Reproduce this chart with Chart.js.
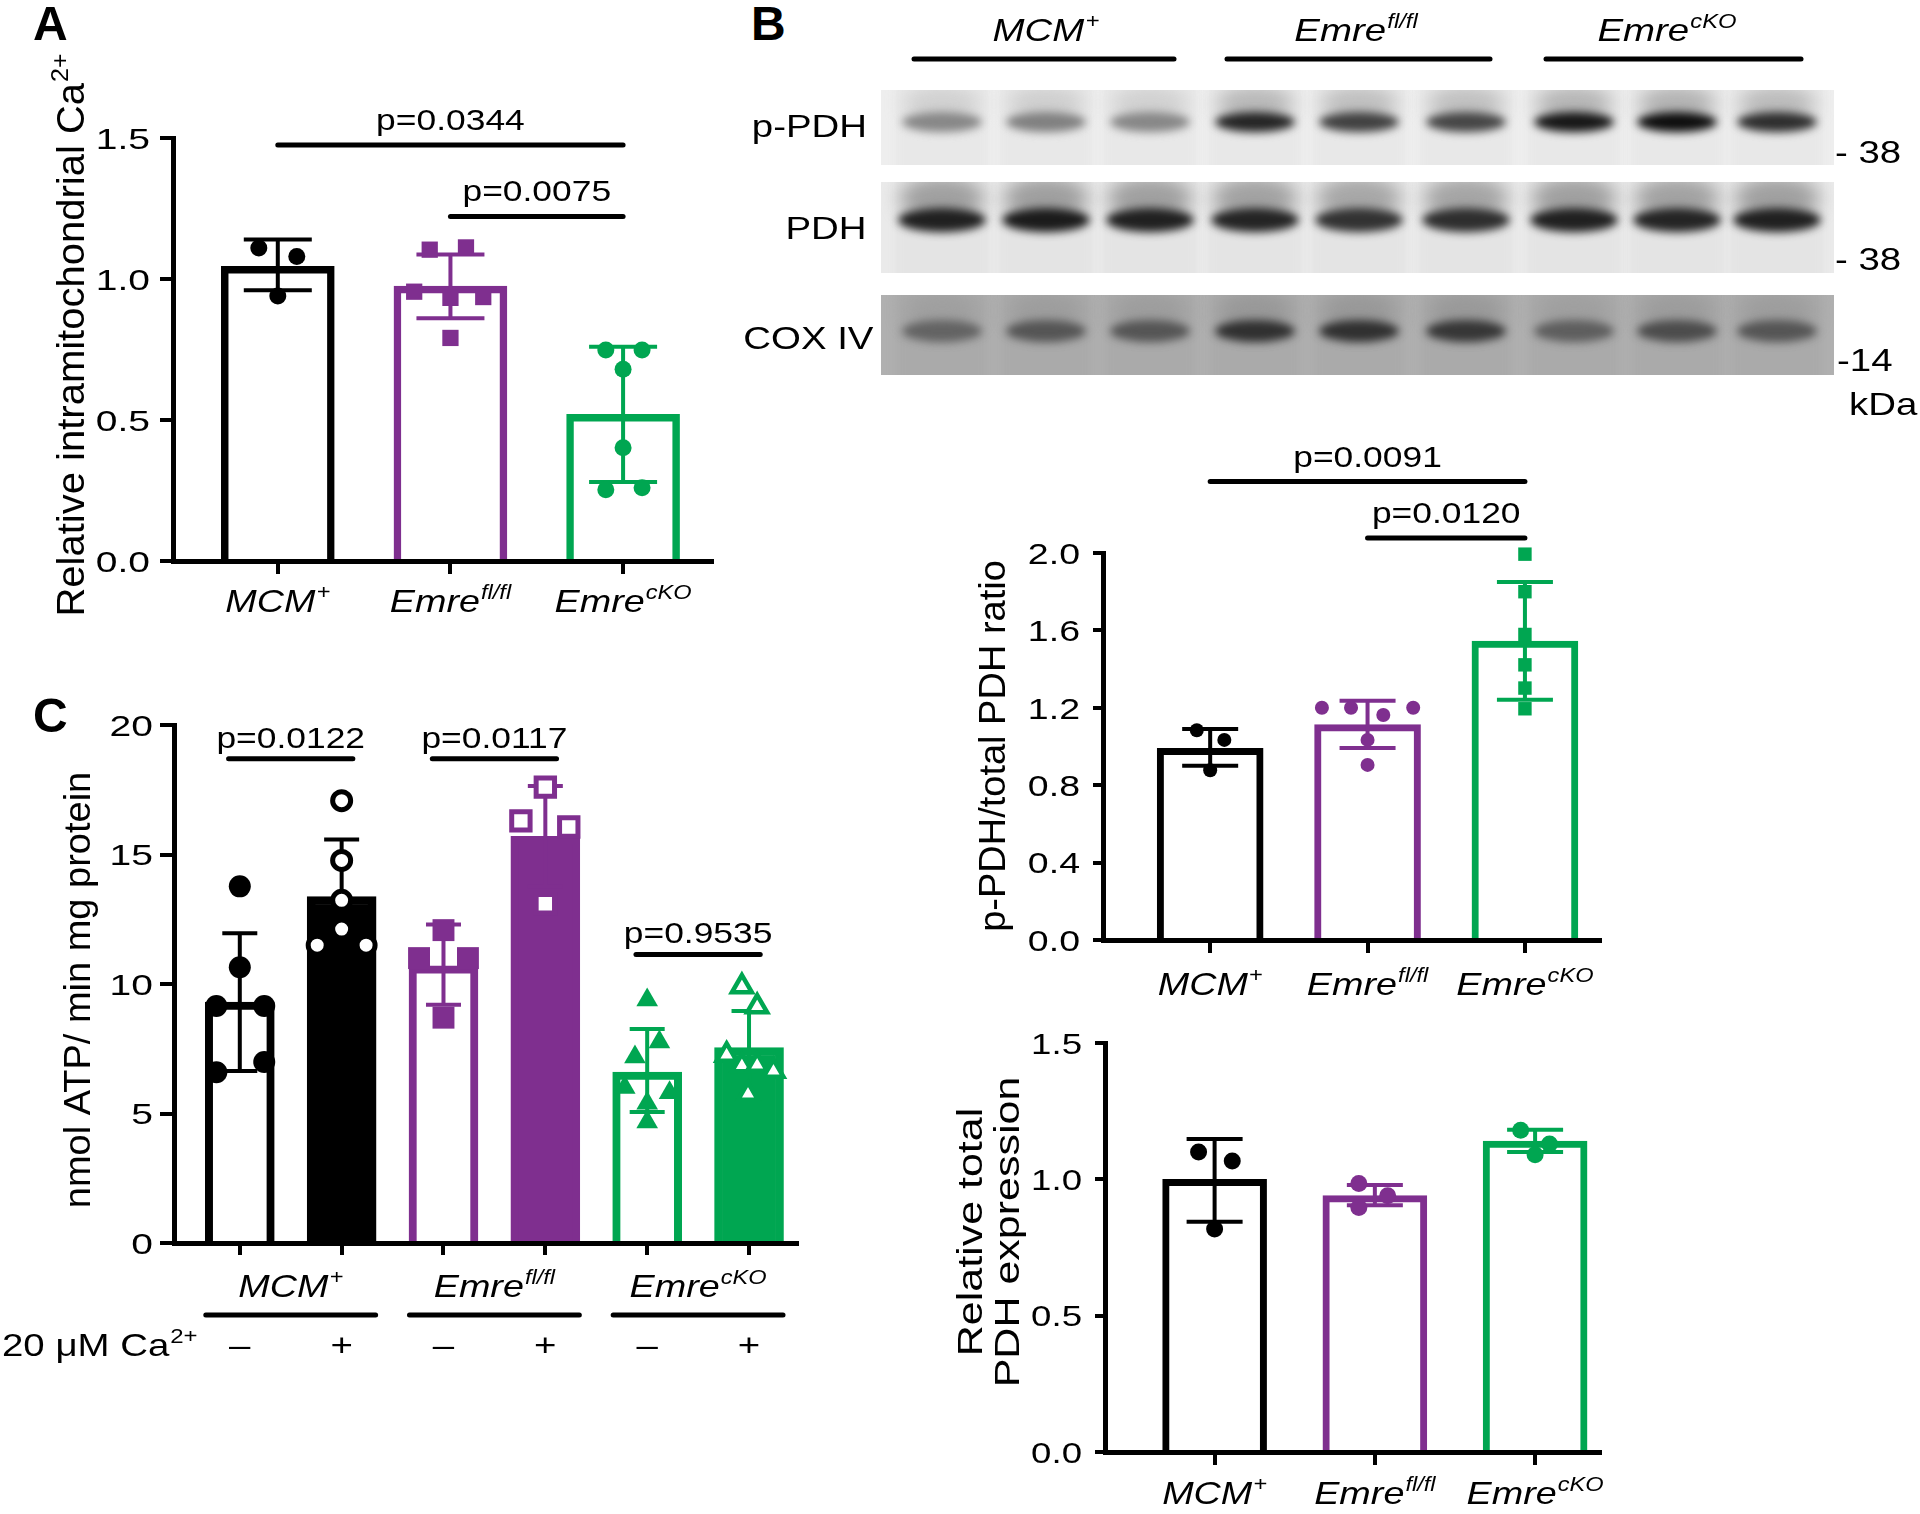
<!DOCTYPE html>
<html>
<head>
<meta charset="utf-8">
<title>Emre cKO figure</title>
<script src="https://cdn.jsdelivr.net/npm/chart.js@4.4.1/dist/chart.umd.min.js"></script>
<style>
  html, body { margin:0; padding:0; background:#fff; }
  #fig { position:relative; width:1920px; height:1514px; background:#fff; overflow:hidden;
         font-family:'Liberation Sans', Arial, Helvetica, sans-serif; color:#000; }
  canvas { position:absolute; display:block; }
  .t { position:absolute; white-space:nowrap; line-height:1; }
  .lt { font-weight:bold; font-size:48px; }
  .gl { font-style:italic; font-size:32px; transform:translateX(-50%) scaleX(1.2); transform-origin:50% 50%; }
  .rl { font-size:32px; text-align:right; transform:scaleX(1.2); transform-origin:100% 50%; }
  .mk { font-size:32px; transform:scaleX(1.2); transform-origin:0 50%; }
  .sp { font-size:0.62em; position:relative; top:-0.66em; margin-left:1px; }
</style>
</head>
<body>
<div id="fig">
  <canvas id="blot" width="1000" height="400" style="left:860px;top:0px;width:1000px;height:400px"></canvas>
  <canvas id="cA" width="730" height="640" style="left:0px;top:0px;width:730px;height:640px"></canvas>
  <canvas id="cC" width="830" height="720" style="left:0px;top:660px;width:830px;height:720px"></canvas>
  <canvas id="cB1" width="720" height="600" style="left:900px;top:420px;width:720px;height:600px"></canvas>
  <canvas id="cB2" width="720" height="504" style="left:900px;top:1010px;width:720px;height:504px"></canvas>

  <div class="t lt" style="left:33px;top:0px">A</div>
  <div class="t lt" style="left:751px;top:0px">B</div>
  <div class="t lt" style="left:33px;top:692px">C</div>

  <div class="t gl" style="left:1046px;top:14px">MCM<span class="sp">+</span></div>
  <div class="t gl" style="left:1356px;top:14px">Emre<span class="sp">fl/fl</span></div>
  <div class="t gl" style="left:1667px;top:14px">Emre<span class="sp">cKO</span></div>

  <div class="t rl" style="right:1053px;top:110px">p-PDH</div>
  <div class="t rl" style="right:1053px;top:212px">PDH</div>
  <div class="t rl" style="right:1047px;top:322px">COX IV</div>

  <div class="t mk" style="left:1835px;top:136px">- 38</div>
  <div class="t mk" style="left:1835px;top:243px">- 38</div>
  <div class="t mk" style="left:1837px;top:344px">-14</div>
  <div class="t mk" style="left:1849px;top:388px">kDa</div>
</div>

<script>
// ================= DATA =================
const FF = "'Liberation Sans', Arial, Helvetica, sans-serif";
const BLACK = '#000000', PURPLE = '#7f2f8f', GREEN = '#00a651', WHITE = '#ffffff';

// shared genotype labels
const genoMain = ['MCM', 'Emre', 'Emre'];
const genoSup  = ['+', 'fl/fl', 'cKO'];

// ---- Panel A : Relative intramitochondrial Ca2+
const aMeans   = [1.045, 0.975, 0.52];
const aErrLow  = [0.96, 0.861, 0.28];
const aErrHigh = [1.14, 1.087, 0.76];
const aPtsMCM  = [1.11, 1.08, 0.94];
const aJitMCM  = [-0.11, 0.11, 0];
const aPtsFl   = [1.104, 1.112, 0.955, 0.933, 0.936, 0.791];
const aJitFl   = [-0.12, 0.09, -0.21, 0, 0.19, 0];
const aPtsKO   = [0.748, 0.748, 0.68, 0.402, 0.253, 0.26];
const aJitKO   = [-0.1, 0.11, 0, 0, -0.1, 0.11];
const aYTicks  = [0, 0.5, 1.0, 1.5];
const aSigFrom = [0, 1];
const aSigTo   = [2, 2];
const aSigY    = [1.475, 1.222];
const aSigText = ['p=0.0344', 'p=0.0075'];

// ---- Panel C : nmol ATP / min mg protein
const cCa       = ['\u2013', '+', '\u2013', '+', '\u2013', '+'];
const cMeans    = [9.3, 13.38, 10.7, 15.7, 6.6, 7.55];
const cErrLow   = [6.64, 11.18, 9.2, 13.76, 5.06, 6.14];
const cErrHigh  = [11.96, 15.58, 12.3, 17.64, 8.26, 8.96];
const cPts1 = [13.77, 10.65, 9.15, 9.15, 6.59, 6.99];    const cJit1 = [0, 0, -0.23, 0.24, -0.23, 0.24];
const cPts2 = [17.08, 14.77, 13.23, 12.12, 11.5, 11.5];  const cJit2 = [0, 0, 0, 0, -0.24, 0.24];
const cPts3 = [12.08, 11.0, 11.0, 8.7];                  const cJit3 = [0, -0.24, 0.24, 0];
const cPts4 = [17.6, 16.3, 16.06, 13.1];                 const cJit4 = [0, -0.24, 0.23, 0];
const cPts5 = [9.38, 7.76, 7.18, 6.0, 5.8, 5.4, 4.67];   const cJit5 = [0, 0.12, -0.12, -0.22, 0.22, 0, 0];
const cPts6 = [9.9, 9.13, 7.26, 6.85, 6.87, 6.64, 5.75]; const cJit6 = [-0.07, 0.08, -0.22, -0.07, 0.08, 0.24, -0.01];
const cYTicks  = [0, 5, 10, 15, 20];
const cSigFrom = [-0.11, 1.89, 3.89];
const cSigTo   = [1.11, 3.11, 5.11];
const cSigY    = [18.7, 18.7, 11.14];
const cSigText = ['p=0.0122', 'p=0.0117', 'p=0.9535'];

// ---- Panel B (ratio) : p-PDH / total PDH ratio
const rMeans   = [0.99, 1.113, 1.545];
const rErrLow  = [0.90, 0.992, 1.241];
const rErrHigh = [1.09, 1.237, 1.85];
const rPtsMCM  = [1.084, 1.034, 0.877];                    const rJitMCM = [-0.085, 0.09, 0];
const rPtsFl   = [1.2, 1.2, 1.163, 1.2, 1.034, 0.905];      const rJitFl  = [-0.29, -0.105, 0.1, 0.29, 0, 0];
const rPtsKO   = [1.994, 1.8, 1.579, 1.422, 1.302, 1.195];  const rJitKO  = [0, 0, 0, 0, 0, 0];
const rYTicks  = [0, 0.4, 0.8, 1.2, 1.6, 2.0];
const rSigFrom = [0, 1];
const rSigTo   = [2, 2];
const rSigY    = [2.369, 2.078];
const rSigText = ['p=0.0091', 'p=0.0120'];

// ---- Panel B (total) : Relative total PDH expression
const tMeans   = [1.0, 0.94, 1.14];
const tErrLow  = [0.844, 0.905, 1.1];
const tErrHigh = [1.148, 0.979, 1.182];
const tPtsMCM  = [1.1, 1.067, 0.818];  const tJitMCM = [-0.1, 0.11, 0];
const tPtsFl   = [0.985, 0.897, 0.94]; const tJitFl  = [-0.1, -0.1, 0.08];
const tPtsKO   = [1.18, 1.09, 1.13];   const tJitKO  = [-0.09, 0, 0.09];
const tYTicks  = [0, 0.5, 1.0, 1.5];

// ---- Western blot appearance (band darkness per lane, 0 = none, 1 = black)
const laneX    = [942, 1046, 1150, 1255, 1359, 1466, 1574, 1677, 1777];
const bandPPDH = [0.42, 0.45, 0.42, 0.84, 0.72, 0.7, 0.9, 0.94, 0.8];
const bandPDH  = [0.86, 0.88, 0.86, 0.84, 0.78, 0.8, 0.86, 0.84, 0.86];
const bandCOX  = [0.42, 0.5, 0.5, 0.72, 0.72, 0.68, 0.45, 0.55, 0.5];

// ================= HELPERS =================
function drawScaled(ctx, str, x, y, font, sx, sy) {
  ctx.save();
  ctx.translate(x, y);
  ctx.scale(sx || 1, sy || 1);
  ctx.font = font;
  ctx.textAlign = 'left';
  ctx.textBaseline = 'alphabetic';
  ctx.fillText(str, 0, 0);
  ctx.restore();
}
function sText(ctx, str, x, y, size, align, sx, italic) {
  const font = (italic ? 'italic ' : '') + size + 'px ' + FF;
  ctx.font = font;
  const w = ctx.measureText(str).width * sx;
  const x0 = align === 'center' ? x - w / 2 : (align === 'right' ? x - w : x);
  drawScaled(ctx, str, x0, y, font, sx, 1);
}
function supText(ctx, x, y, main, sup, size, italic, align, sx, sy) {
  sx = sx || 1; sy = sy || 1;
  const st = italic ? 'italic ' : '';
  const ss = Math.round(size * 0.62);
  const f1 = st + size + 'px ' + FF, f2 = st + ss + 'px ' + FF;
  ctx.font = f1;
  const w1 = ctx.measureText(main).width * sx;
  ctx.font = f2;
  const w2 = sup ? ctx.measureText(sup).width * sx + 1 : 0;
  const tot = w1 + w2;
  const x0 = align === 'center' ? x - tot / 2 : (align === 'right' ? x - tot : x);
  drawScaled(ctx, main, x0, y, f1, sx, sy);
  if (sup) drawScaled(ctx, sup, x0 + w1 + 1, y - size * 0.4 * sy, f2, sx, sy);
}
function vTitle(ctx, cx, cy, main, sup, size, sy) {
  ctx.save();
  ctx.translate(cx, cy);
  ctx.rotate(-Math.PI / 2);
  supText(ctx, 0, size * 0.36 * sy, main, sup, size, false, 'center', 1, sy);
  ctx.restore();
}

function buildChart(sp) {
  const datasets = [{
    type: 'bar', order: 1,
    data: sp.means.map((m, i) => ({ x: i, y: m })),
    backgroundColor: sp.barFill, borderColor: sp.barEdge,
    borderWidth: sp.barBorder, barThickness: sp.barW, borderSkipped: 'start'
  }];
  sp.points.forEach(p => datasets.push({
    type: 'scatter', order: 0,
    data: p.vals.map((v, j) => ({ x: p.cat + p.jit[j], y: v })),
    pointStyle: p.style, pointRadius: p.r, pointHoverRadius: p.r,
    pointBackgroundColor: p.fill, pointBorderColor: p.edge, pointBorderWidth: p.bw,
    showLine: false, clip: false
  }));
  const plugin = {
    id: 'deco_' + sp.id,
    afterDatasetDraw(chart, args) {
      if (args.index !== 0) return;
      const ctx = chart.ctx, xs = chart.scales.x, ys = chart.scales.y;
      ctx.save();
      ctx.lineWidth = sp.errW;
      ctx.lineCap = 'butt';
      sp.errLow.forEach((lo, i) => {
        const px = xs.getPixelForValue(i);
        const pl = ys.getPixelForValue(lo), ph = ys.getPixelForValue(sp.errHigh[i]);
        ctx.strokeStyle = sp.barEdge[i];
        ctx.beginPath();
        ctx.moveTo(px, pl); ctx.lineTo(px, ph);
        ctx.moveTo(px - sp.cap, pl); ctx.lineTo(px + sp.cap, pl);
        ctx.moveTo(px - sp.cap, ph); ctx.lineTo(px + sp.cap, ph);
        ctx.stroke();
      });
      ctx.restore();
    },
    afterDraw(chart) {
      const ctx = chart.ctx, xs = chart.scales.x, ys = chart.scales.y, ca = chart.chartArea;
      ctx.save();
      ctx.fillStyle = '#000'; ctx.strokeStyle = '#000';
      // y tick labels
      sp.yTicks.forEach(v => sText(ctx, v.toFixed(sp.yDec), ca.left - sp.yLabGap,
        ys.getPixelForValue(v) + sp.tickS * 0.358, sp.tickS, 'right', sp.tickSx, false));
      // significance bars
      if (sp.sig) {
        sp.sig.from.forEach((f, i) => {
          const x1 = xs.getPixelForValue(f), x2 = xs.getPixelForValue(sp.sig.to[i]);
          const py = ys.getPixelForValue(sp.sig.y[i]);
          ctx.lineWidth = sp.sigW; ctx.lineCap = 'round';
          ctx.beginPath(); ctx.moveTo(x1, py); ctx.lineTo(x2, py); ctx.stroke();
          sText(ctx, sp.sig.text[i], (x1 + x2) / 2, py - sp.sigGap, 30, 'center', 1.18, false);
        });
      }
      // category labels
      if (sp.cats) {
        sp.cats.main.forEach((m, i) =>
          supText(ctx, xs.getPixelForValue(i), ca.bottom + sp.catDy, m, sp.cats.sup[i], 32, true, 'center', 1.18, 1));
      }
      sp.titles.forEach(t => vTitle(ctx, t.x, t.y, t.main, t.sup, sp.titleFont, sp.titleSy));
      if (sp.extra) sp.extra(chart, ctx, xs, ys, ca);
      ctx.restore();
    }
  };
  return new Chart(document.getElementById(sp.id), {
    type: 'scatter',
    data: { datasets },
    options: {
      responsive: false, maintainAspectRatio: false, animation: false, devicePixelRatio: 1,
      events: [],
      layout: { padding: { left: 0, right: sp.padR, top: sp.padT, bottom: 0 } },
      plugins: { legend: { display: false }, tooltip: { enabled: false } },
      scales: {
        x: {
          type: 'linear', min: sp.xmin, max: sp.xmax, offset: false,
          afterBuildTicks: s => { s.ticks = sp.means.map((_, i) => ({ value: i })); },
          afterFit: s => { s.height = sp.hx; },
          ticks: { display: false },
          grid: { display: true, offset: false, drawOnChartArea: false, drawTicks: true,
                  tickLength: sp.xTickLen, lineWidth: sp.tickW, color: '#000' },
          border: { display: true, width: sp.axisW, color: '#000' }
        },
        y: {
          type: 'linear', min: sp.ymin, max: sp.ymax,
          afterBuildTicks: s => { s.ticks = sp.yTicks.map(v => ({ value: v })); },
          afterFit: s => { s.width = sp.wy; },
          ticks: { display: false },
          grid: { display: true, drawOnChartArea: false, drawTicks: true,
                  tickLength: sp.yTickLen, lineWidth: sp.tickW, color: '#000' },
          border: { display: true, width: sp.axisW, color: '#000' }
        }
      }
    },
    plugins: [plugin]
  });
}

// ================= PANEL A =================
buildChart({
  id: 'cA', wy: 173, hx: 79, padT: 138, padR: 18,
  xmin: -0.607, xmax: 2.515, ymin: 0, ymax: 1.5, yTicks: aYTicks, yDec: 1,
  tickS: 30, tickSx: 1.3, yLabGap: 23, yTickLen: 13, xTickLen: 13, tickW: 4, axisW: 5,
  means: aMeans, barFill: [WHITE, WHITE, WHITE], barEdge: [BLACK, PURPLE, GREEN], barBorder: 7.5, barW: 113,
  errLow: aErrLow, errHigh: aErrHigh, errW: 4, cap: 34,
  points: [
    { vals: aPtsMCM, jit: aJitMCM, cat: 0, style: 'circle', r: 8.5, fill: BLACK, edge: BLACK, bw: 0 },
    { vals: aPtsFl,  jit: aJitFl,  cat: 1, style: 'rect',   r: 11.5, fill: PURPLE, edge: PURPLE, bw: 0 },
    { vals: aPtsKO,  jit: aJitKO,  cat: 2, style: 'circle', r: 8.5, fill: GREEN, edge: GREEN, bw: 0 }
  ],
  sig: { from: aSigFrom, to: aSigTo, y: aSigY, text: aSigText }, sigW: 5, sigGap: 15,
  cats: { main: genoMain, sup: genoSup }, catDy: 51,
  titleFont: 40, titleSy: 0.95,
  titles: [{ x: 70, y: 335, main: 'Relative intramitochondrial Ca', sup: '2+' }]
});

// ================= PANEL C =================
buildChart({
  id: 'cC', wy: 174, hx: 137, padT: 65, padR: 33,
  xmin: -0.646, xmax: 5.471, ymin: 0, ymax: 20, yTicks: cYTicks, yDec: 0,
  tickS: 30, tickSx: 1.3, yLabGap: 21, yTickLen: 14, xTickLen: 12, tickW: 4, axisW: 5,
  means: cMeans,
  barFill: [WHITE, BLACK, WHITE, PURPLE, WHITE, GREEN],
  barEdge: [BLACK, BLACK, PURPLE, PURPLE, GREEN, GREEN], barBorder: 8, barW: 69,
  errLow: cErrLow, errHigh: cErrHigh, errW: 4, cap: 17.5,
  points: [
    { vals: cPts1, jit: cJit1, cat: 0, style: 'circle',   r: 11,   fill: BLACK, edge: BLACK, bw: 0 },
    { vals: cPts2, jit: cJit2, cat: 1, style: 'circle',   r: 9,    fill: WHITE, edge: BLACK, bw: 5 },
    { vals: cPts3, jit: cJit3, cat: 2, style: 'rect',     r: 15.5, fill: PURPLE, edge: PURPLE, bw: 0 },
    { vals: cPts4, jit: cJit4, cat: 3, style: 'rect',     r: 13,   fill: WHITE, edge: PURPLE, bw: 5 },
    { vals: cPts5, jit: cJit5, cat: 4, style: 'triangle', r: 12.5, fill: GREEN, edge: GREEN, bw: 0 },
    { vals: cPts6, jit: cJit6, cat: 5, style: 'triangle', r: 11.5, fill: WHITE, edge: GREEN, bw: 4.5 }
  ],
  sig: { from: cSigFrom, to: cSigTo, y: cSigY, text: cSigText }, sigW: 5, sigGap: 11,
  cats: null,
  titleFont: 38, titleSy: 0.95,
  titles: [{ x: 77, y: 330, main: 'nmol ATP/ min mg protein', sup: '' }],
  extra: (chart, ctx, xs, ys, ca) => {
    const half = 34;
    for (let g = 0; g < 3; g++) {
      const xa = xs.getPixelForValue(2 * g), xb = xs.getPixelForValue(2 * g + 1);
      supText(ctx, (xa + xb) / 2, ca.bottom + 54, genoMain[g], genoSup[g], 32, true, 'center', 1.18, 1);
      ctx.lineWidth = 5; ctx.lineCap = 'round'; ctx.strokeStyle = '#000';
      ctx.beginPath(); ctx.moveTo(xa - half, ca.bottom + 72); ctx.lineTo(xb + half, ca.bottom + 72); ctx.stroke();
    }
    cCa.forEach((s, i) => sText(ctx, s, xs.getPixelForValue(i), ca.bottom + 113, 32, 'center', 1.2, false));
    supText(ctx, 2, ca.bottom + 113, '20 \u03bcM Ca', '2+', 32, false, 'left', 1.2, 1);
  }
});

// ================= PANEL B ratio =================
buildChart({
  id: 'cB1', wy: 203, hx: 80, padT: 133, padR: 20,
  xmin: -0.681, xmax: 2.477, ymin: 0, ymax: 2.0, yTicks: rYTicks, yDec: 1,
  tickS: 30, tickSx: 1.25, yLabGap: 23, yTickLen: 10, xTickLen: 13, tickW: 4, axisW: 5,
  means: rMeans, barFill: [WHITE, WHITE, WHITE], barEdge: [BLACK, PURPLE, GREEN], barBorder: 7, barW: 106,
  errLow: rErrLow, errHigh: rErrHigh, errW: 4, cap: 28,
  points: [
    { vals: rPtsMCM, jit: rJitMCM, cat: 0, style: 'circle', r: 7, fill: BLACK, edge: BLACK, bw: 0 },
    { vals: rPtsFl,  jit: rJitFl,  cat: 1, style: 'circle', r: 7, fill: PURPLE, edge: PURPLE, bw: 0 },
    { vals: rPtsKO,  jit: rJitKO,  cat: 2, style: 'rect',   r: 9.5, fill: GREEN, edge: GREEN, bw: 0 }
  ],
  sig: { from: rSigFrom, to: rSigTo, y: rSigY, text: rSigText }, sigW: 5, sigGap: 15,
  cats: { main: genoMain, sup: genoSup }, catDy: 55,
  titleFont: 38, titleSy: 0.95,
  titles: [{ x: 92, y: 326, main: 'p-PDH/total PDH ratio', sup: '' }]
});

// ================= PANEL B total =================
buildChart({
  id: 'cB2', wy: 205, hx: 62, padT: 33, padR: 20,
  xmin: -0.684, xmax: 2.405, ymin: 0, ymax: 1.5, yTicks: tYTicks, yDec: 1,
  tickS: 30, tickSx: 1.22, yLabGap: 23, yTickLen: 10, xTickLen: 13, tickW: 4, axisW: 5,
  means: tMeans, barFill: [WHITE, WHITE, WHITE], barEdge: [BLACK, PURPLE, GREEN], barBorder: 7, barW: 104,
  errLow: tErrLow, errHigh: tErrHigh, errW: 4, cap: 28,
  points: [
    { vals: tPtsMCM, jit: tJitMCM, cat: 0, style: 'circle', r: 8.5, fill: BLACK, edge: BLACK, bw: 0 },
    { vals: tPtsFl,  jit: tJitFl,  cat: 1, style: 'circle', r: 8.5, fill: PURPLE, edge: PURPLE, bw: 0 },
    { vals: tPtsKO,  jit: tJitKO,  cat: 2, style: 'circle', r: 8.5, fill: GREEN, edge: GREEN, bw: 0 }
  ],
  sig: null,
  cats: { main: genoMain, sup: genoSup }, catDy: 52,
  titleFont: 43, titleSy: 0.82,
  titles: [
    { x: 69, y: 222, main: 'Relative total', sup: '' },
    { x: 106, y: 222, main: 'PDH expression', sup: '' }
  ]
});

// ================= WESTERN BLOT =================
(function drawBlot() {
  const cv = document.getElementById('blot');
  const ctx = cv.getContext('2d');
  const OX = 860;
  ctx.strokeStyle = '#000'; ctx.lineWidth = 5; ctx.lineCap = 'round';
  for (let g = 0; g < 3; g++) {
    ctx.beginPath();
    ctx.moveTo(laneX[g * 3] - 28 - OX, 59);
    ctx.lineTo(laneX[g * 3 + 2] + 24 - OX, 59);
    ctx.stroke();
  }
  const strips = [
    { y: 90,  h: 75, bgv: 232, cy: 122, bh: 20, bw: 40, vals: bandPPDH, halo: 0.25 },
    { y: 182, h: 91, bgv: 228, cy: 220, bh: 24, bw: 44, vals: bandPDH,  halo: 0.35 },
    { y: 295, h: 80, bgv: 170, cy: 331, bh: 22, bw: 40, vals: bandCOX,  halo: 0.15 }
  ];
  strips.forEach(s => {
    ctx.save();
    ctx.beginPath(); ctx.rect(881 - OX, s.y, 953, s.h); ctx.clip();
    const g0 = s.bgv + 6;
    ctx.fillStyle = 'rgb(' + g0 + ',' + g0 + ',' + g0 + ')';
    ctx.fillRect(881 - OX, s.y, 953, s.h);
    // lane columns (slightly darker than the gaps between lanes)
    ctx.filter = 'blur(4px)';
    ctx.fillStyle = 'rgb(' + s.bgv + ',' + s.bgv + ',' + s.bgv + ')';
    laneX.forEach(lx => ctx.fillRect(lx - 46 - OX, s.y - 10, 92, s.h + 20));
    s.vals.forEach((v, i) => {
      const x = laneX[i] - OX;
      ctx.filter = 'blur(9px)';
      const c2 = Math.round(s.bgv * (1 - v * s.halo));
      ctx.fillStyle = 'rgb(' + c2 + ',' + c2 + ',' + c2 + ')';
      ctx.beginPath(); ctx.ellipse(x, s.cy - s.bh * 0.9, s.bw - 2, s.bh * 0.9, 0, 0, Math.PI * 2); ctx.fill();
      ctx.filter = 'blur(4px)';
      const c = Math.round(s.bgv * (1 - v));
      ctx.fillStyle = 'rgb(' + c + ',' + c + ',' + c + ')';
      ctx.beginPath(); ctx.ellipse(x, s.cy, s.bw, s.bh / 2, 0, 0, Math.PI * 2); ctx.fill();
    });
    ctx.filter = 'none';
    ctx.restore();
  });
})();
</script>
</body>
</html>
